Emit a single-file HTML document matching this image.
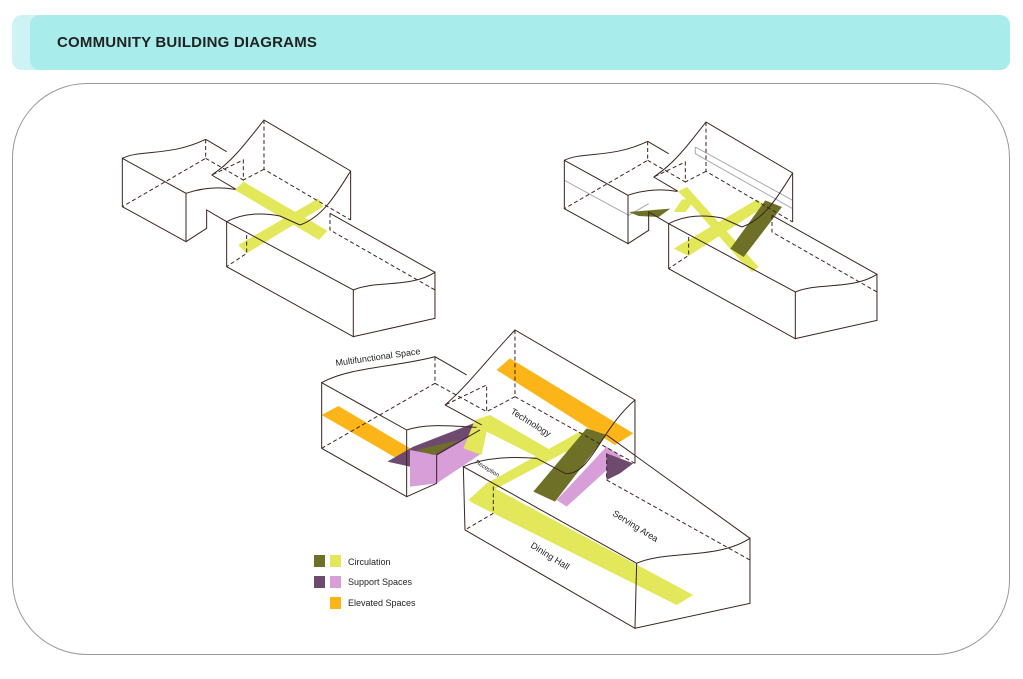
<!DOCTYPE html>
<html><head><meta charset="utf-8"><style>
html,body{margin:0;padding:0;background:#fff;width:1023px;height:679px;overflow:hidden;font-family:"Liberation Sans",sans-serif}
.hb{position:absolute;left:12px;top:15px;width:998px;height:55px;background:#cdf3f4;border-radius:10px}
.hi{position:absolute;left:30px;top:15px;width:980px;height:55px;background:#a9ecec;border-radius:10px}
.ht{position:absolute;left:57px;top:34px;font-weight:bold;font-size:15px;color:#222;letter-spacing:0.2px}
.box{position:absolute;left:12px;top:83px;width:996px;height:570px;border:1px solid #999;border-radius:75px}
svg{position:absolute;left:0;top:0}
</style></head><body>
<div class="hb"></div><div class="hi"></div><div class="ht">COMMUNITY BUILDING DIAGRAMS</div>
<div class="box"></div>
<svg width="1023" height="679" viewBox="0 0 1023 679">
<defs>
<g id="outline" fill="none" stroke="#3a2420" stroke-width="3">
 <path d="M37,145 C90,118 180,140 287,88"/>
 <path d="M37,145 L228,250 L228,395 L37,290 Z"/>
 <path d="M228,250 C280,232 330,230 375,238"/>
 <path d="M287,88 L350,125"/>
 <path d="M228,395 L290,355 L290,300 L350,335"/>
 <path d="M305,195 C360,160 400,110 462,30 L722,183 L722,330"/>
 <path d="M722,183 C680,250 640,320 570,345"/>
 <path d="M305,195 L378,238"/>
 <path d="M350,335 C400,308 460,308 510,318 L570,345"/>
 <path d="M350,335 L730,540 L730,680 L350,470 Z"/>
 <path d="M730,540 C800,510 900,535 975,487 L975,625 L730,680"/>
 <path d="M660,310 L975,487"/>
 <g stroke-dasharray="12 8">
  <path d="M287,88 L287,145 L37,290"/>
  <path d="M287,145 L400,210 L400,150 L305,195"/>
  <path d="M462,30 L462,178 L722,330"/>
  <path d="M462,178 L400,210"/>
  <path d="M660,310 L660,360 L975,540"/>
  <path d="M410,375 L410,430 L350,470"/>
 </g>
</g>
</defs>
<!-- top left -->
<g transform="translate(110,110) scale(0.3333)">
 <polygon points="375,240 400,215 652,362 627,390" fill="#e2e85a"/>
 <polygon points="385,405 625,265 640,290 410,430" fill="#e2e85a"/>
 <use href="#outline"/>
</g>
<!-- top right -->
<g transform="translate(552,112) scale(0.3333)">
 <g fill="none" stroke="#aaa" stroke-width="3">
  <path d="M37,205 L230,310 L290,275"/><path d="M430,105 L722,265"/><path d="M430,105 L430,125 L722,290"/>
 </g>
 <polygon points="378,238 405,225 620,465 600,480 560,440 420,280" fill="#e2e85a"/>
 <polygon points="365,410 615,262 640,282 410,432" fill="#e2e85a"/>
 <polygon points="390,262 430,262 400,300 365,300" fill="#e2e85a"/>
 <polygon points="230,300 355,290 320,315 260,312" fill="#6f7028"/>
 <polygon points="535,410 640,265 690,285 575,435" fill="#6f7028"/>
 <use href="#outline"/>
</g>
<!-- bottom -->
<g transform="translate(300,320) scale(0.3333)" stroke-width="3">
 <polygon points="65,285 115,258 365,405 320,432" fill="#fbb518"/>
 <polygon points="590,150 630,115 1000,340 945,375" fill="#fbb518"/>
 <polygon points="262,425 340,380 520,310 545,330 410,405 330,440" fill="#6e4a6e"/>
 <polygon points="330,390 410,405 545,330 545,400 410,490 330,500" fill="#d89ed8"/>
 <polygon points="350,390 480,360 400,405" fill="#6f7028"/>
 <polygon points="490,385 525,300 570,285 760,395 720,415 560,335 545,405" fill="#e2e85a"/>
 <polygon points="840,335 885,350 580,510 525,548 505,540 560,490" fill="#e2e85a"/>
 <polygon points="510,545 575,500 1180,825 1130,855" fill="#e2e85a"/>
 <polygon points="770,540 920,380 965,410 800,560" fill="#d89ed8"/>
 <polygon points="920,400 1000,430 960,460 920,480" fill="#6e4a6e"/>
 <polygon points="700,515 860,325 920,345 765,545" fill="#6f7028"/>
 <g fill="none" stroke="#3a2420">
  <path d="M65,188 C150,140 300,140 405,110 L500,165"/>
  <path d="M65,188 L320,330 L320,530 L65,385 Z"/>
  <path d="M320,330 C380,310 450,318 530,322"/>
  <path d="M320,530 L410,490 L410,405 L540,330"/>
  <path d="M435,255 C500,200 560,120 645,30 L1005,240 L1005,430"/>
  <path d="M1005,240 C900,330 870,470 795,460 L710,415"/>
  <path d="M435,255 L545,315"/>
  <path d="M490,440 C560,410 640,410 710,415"/>
  <path d="M490,440 L1010,730 L1005,925 L495,630 Z"/>
  <path d="M1010,730 C1100,690 1250,720 1350,655 L1350,850 L1005,925"/>
  <path d="M920,345 L1350,655"/>
  <g stroke-dasharray="12 8">
   <path d="M405,110 L405,190 L65,385"/>
   <path d="M405,190 L560,275 L560,195 L435,255"/>
   <path d="M645,30 L645,230 L1005,430"/>
   <path d="M645,230 L560,275"/>
   <path d="M920,400 L920,480 L1350,720"/>
   <path d="M580,500 L580,580 L495,630"/>
  </g>
 </g>
</g>
<g font-family="Liberation Sans, sans-serif" fill="#222">
 <text x="336" y="366" font-size="9" transform="rotate(-8 336 366)">Multifunctional Space</text>
 <text x="510" y="413" font-size="9" transform="rotate(32 510 413)">Technology</text>
 <text x="475" y="463" font-size="6" transform="rotate(32 475 463)">Reception</text>
 <text x="612" y="515" font-size="9" transform="rotate(32 612 515)">Serving Area</text>
 <text x="530" y="547" font-size="9" transform="rotate(32 530 547)">Dining Hall</text>
 <rect x="314" y="555" width="11" height="12" fill="#6f7028"/><rect x="330" y="555" width="11" height="12" fill="#e2e85a"/>
 <rect x="314" y="576" width="11" height="12" fill="#6e4a6e"/><rect x="330" y="576" width="11" height="12" fill="#d89ed8"/>
 <rect x="330" y="597" width="11" height="12" fill="#fbb518"/>
 <text x="348" y="565" font-size="9">Circulation</text>
 <text x="348" y="585" font-size="9">Support Spaces</text>
 <text x="348" y="606" font-size="9">Elevated Spaces</text>
</g>
</svg>
</body></html>
